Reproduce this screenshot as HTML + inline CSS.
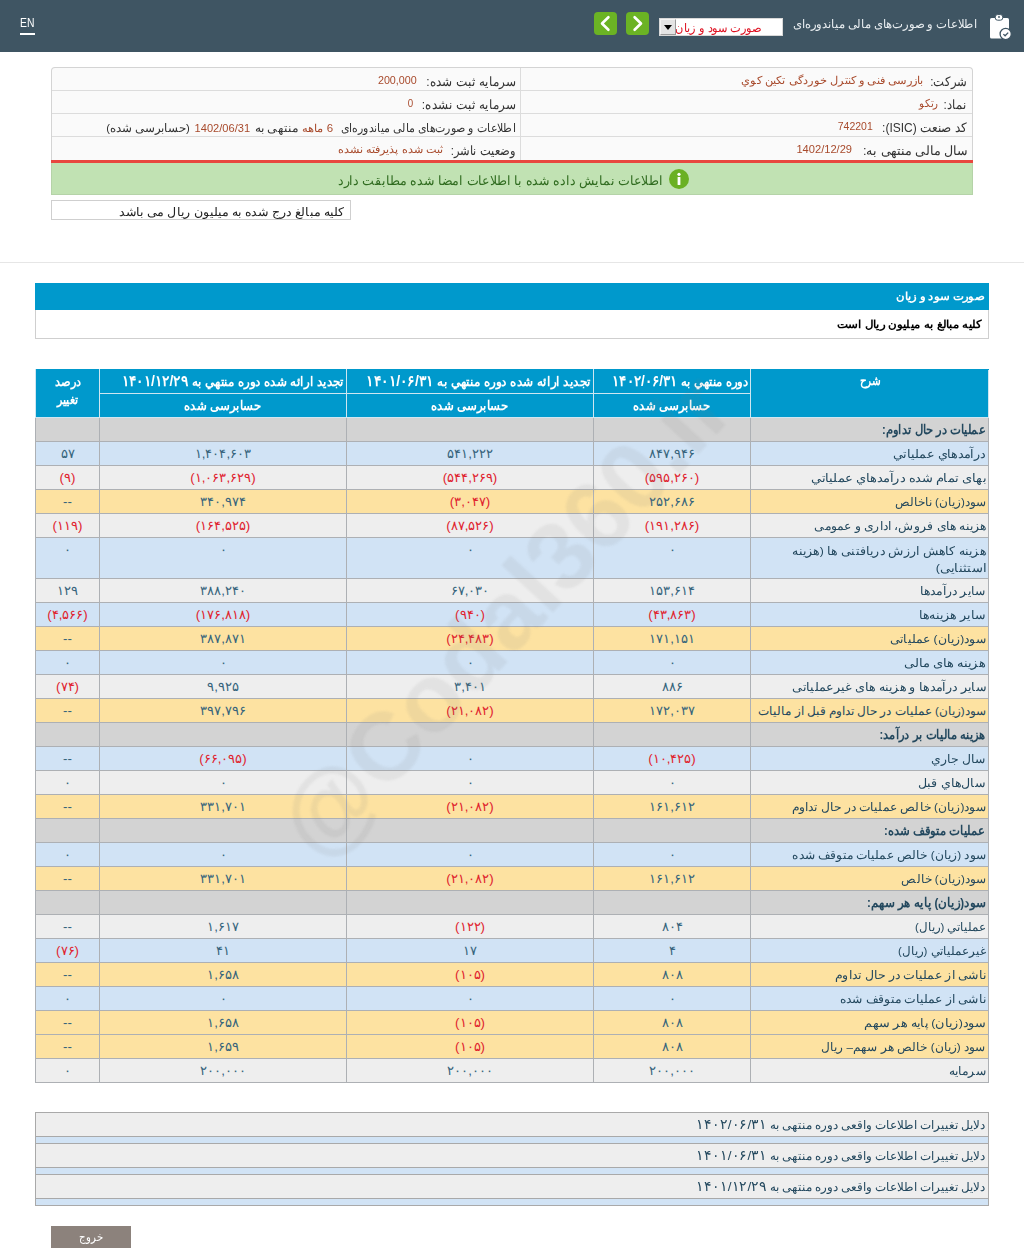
<!DOCTYPE html>
<html lang="fa" dir="rtl">
<head>
<meta charset="utf-8">
<title>Codal</title>
<style>
*{box-sizing:border-box;}
html,body{margin:0;padding:0;background:#fff;overflow:hidden;}
body{width:1024px;height:1248px;position:relative;overflow:hidden;direction:rtl;
 font-family:"Liberation Sans",sans-serif;font-size:12px;color:#333;}
.abs{position:absolute;}
.f{display:inline-block;white-space:nowrap;}
.f.r{transform-origin:100% 50%;}
.f.c{transform-origin:50% 50%;}
.f.l{transform-origin:0 50%;}
.dg{font-size:1.17em;}
#hdr{position:absolute;left:0;top:0;width:1024px;height:52px;background:#3f5563;}
#hdr .title{position:absolute;right:47px;top:14px;height:20px;line-height:20px;font-size:11.7px;color:#e9eef1;white-space:nowrap;}
#hdr .en{position:absolute;left:20px;top:16px;font-size:12.2px;line-height:14px;color:#fff;direction:ltr;transform:scaleX(0.85);transform-origin:0 50%;}
#hdr .enline{position:absolute;left:20px;top:33px;width:15px;height:1.5px;background:#fff;}
.gbtn{position:absolute;top:12px;width:23px;height:23px;border-radius:4px;background:#6bb324;}
.sel{position:absolute;left:659px;top:18px;width:124px;height:18px;background:#fff;border:1px solid #d8d8d8;}
.sel .txt{position:absolute;right:20.5px;top:1px;height:16px;line-height:16px;color:#de1020;font-size:11.5px;white-space:nowrap;}
.sel .arr{position:absolute;left:0;top:0;width:16px;height:16px;background:#e4e4e4;border:1px solid #9a9a9a;border-top-color:#f4f4f4;border-left-color:#f4f4f4;}
.sel .arr:after{content:"";position:absolute;left:3px;top:5px;border-left:4.5px solid transparent;border-right:4.5px solid transparent;border-top:5px solid #000;}
#info{position:absolute;left:51px;top:67px;width:922px;height:94px;background:#fafafa;border:1px solid #d4d4d4;border-bottom:none;border-radius:4px 4px 0 0;}
#info .row{position:absolute;left:0;width:920px;height:23px;border-bottom:1px solid #dcdcdc;}
#info .vd{position:absolute;left:468px;top:0;width:1px;height:93px;background:#dcdcdc;}
#info .k{position:absolute;top:0;height:23px;line-height:27px;white-space:nowrap;font-size:13px;color:#333;}
#info .v{position:absolute;top:0;height:23px;line-height:25px;white-space:nowrap;font-size:11px;color:#a84a2c;}
#redl{position:absolute;left:51px;top:160px;width:922px;height:3px;background:#e8473f;}
#grn{position:absolute;left:51px;top:163px;width:922px;height:32px;background:#c1e2b3;border:1px solid #b5d3a8;border-top:none;}
#grn .t{position:absolute;right:309px;top:0;height:32px;line-height:35px;font-size:13px;color:#2f6b1f;white-space:nowrap;}
#grn .ic{position:absolute;left:617px;top:6px;width:20px;height:20px;border-radius:50%;background:#6ab023;}
#note{position:absolute;left:51px;top:200px;width:300px;height:20px;border:1px solid #cfcfcf;background:#fff;line-height:22px;font-size:12px;color:#222;padding-right:5px;white-space:nowrap;}
#hr{position:absolute;left:0;top:262px;width:1024px;height:1px;background:#e6e6e6;}
#sec{position:absolute;left:35px;top:283px;width:954px;height:27px;background:#0099cc;color:#fff;font-weight:bold;font-size:11.2px;line-height:27px;padding-right:4.5px;}
#sub{position:absolute;left:35px;top:310px;width:954px;height:29px;background:#fff;border:1px solid #cfcfcf;border-top:none;color:#000;font-weight:bold;font-size:11.2px;line-height:28px;padding-right:6px;}
#tbl{position:absolute;left:35px;top:369px;width:953px;border-collapse:collapse;table-layout:fixed;direction:rtl;}
#tbl td,#tbl th{border:1px solid #adb0b4;padding:0;height:24px;line-height:22px;font-size:11.5px;white-space:nowrap;overflow:visible;}
#tbl thead tr{background:#0099cc;}
#tbl th{color:#fff;font-weight:bold;border-color:#cfe6f1;text-align:center;font-size:13px;}
#tbl thead tr:first-child th{border-top-color:#0099cc;}
#tbl th.ov{text-align:right;padding-right:2px;}
#tbl td{color:#36647c;text-align:center;font-size:13.3px;}
#tbl td.d{text-align:right;padding-right:2.4px;font-size:11.6px;color:#23485e;}
#tbl tr.b td{background:#d1e3f5;}
#tbl tr.g td{background:#eeeeee;}
#tbl tr.y td{background:#fde2a1;}
#tbl tr.h td{background:#d3d3d3;}
#tbl tr.h td.d{font-weight:bold;font-size:12.6px;}
#tbl td.n{color:#e0232e;}
#tbl tr.two td{height:41px;vertical-align:top;padding-top:1px;}
#tbl tr.two td.d{line-height:17px;padding-top:4px;}
#wm{position:absolute;left:505px;top:616px;width:0;height:0;direction:ltr;}
#wm span{position:absolute;left:-400px;top:-60px;width:800px;height:120px;line-height:120px;text-align:center;font-size:96.6px;font-weight:bold;color:rgba(120,120,120,0.105);transform:rotate(-47.4deg);white-space:nowrap;filter:blur(0.8px);}
#rs{position:absolute;left:35px;top:1112px;width:954px;}
#rs .a{height:24px;background:#eeeeee;border:1px solid #a9a9a9;border-bottom:none;line-height:24px;font-size:11.6px;color:#23485e;padding-right:3px;white-space:nowrap;}
#rs .bb{height:7px;background:#d1e3f5;border:1px solid #a9a9a9;border-bottom:none;}
#rs .bb.last{height:8px;border-bottom:1px solid #a9a9a9;}
#exit{position:absolute;left:51px;top:1226px;width:80px;height:22px;background:#8c827c;color:#fff;text-align:center;font-size:11.5px;line-height:23px;}
</style>
</head>
<body>
<div id="hdr">
  <svg class="abs" style="left:988px;top:13px" width="26" height="28" viewBox="0 0 26 28">
    <rect x="2" y="5" width="19" height="20.5" rx="1.6" fill="#fff"/>
    <rect x="7.2" y="1.6" width="7.6" height="5.6" rx="2.4" fill="#fff" stroke="#3f5563" stroke-width="1"/>
    <circle cx="11" cy="4" r="0.9" fill="#3f5563"/>
    <circle cx="17.7" cy="21" r="5.6" fill="#fff" stroke="#3f5563" stroke-width="1.3"/>
    <path d="M15.4 21.1 L17.1 22.8 L20.2 19.6" fill="none" stroke="#3f5563" stroke-width="1.3"/>
  </svg>
  <div class="title"><span class="f r" style="transform:scaleX(0.968)">اطلاعات و صورت‌های مالی میاندوره‌ای</span></div>
  <div class="sel"><div class="txt"><span class="f r" style="transform:scaleX(0.945)">صورت سود و زیان</span></div><div class="arr"></div></div>
  <div class="gbtn" style="left:626px"><svg width="23" height="23" viewBox="0 0 23 23"><path d="M8.6 5.2 L15 11.5 L8.6 17.8" fill="none" stroke="#fff" stroke-width="2.6" stroke-linecap="round" stroke-linejoin="round"/></svg></div>
  <div class="gbtn" style="left:594px"><svg width="23" height="23" viewBox="0 0 23 23"><path d="M14.4 5.2 L8 11.5 L14.4 17.8" fill="none" stroke="#fff" stroke-width="2.6" stroke-linecap="round" stroke-linejoin="round"/></svg></div>
  <div class="en">EN</div><div class="enline"></div>
</div>
<div id="info">
<div class="row" style="top:0px"><div class="k" style="right:5.0px"><span class="f r" style="transform:scaleX(0.895)">شرکت:</span></div><div class="v" style="right:49.0px"><span class="f r" style="transform:scaleX(1.034)">بازرسی فنی و کنترل خوردگی تکین کوي</span></div><div class="k" style="right:456.4px"><span class="f r" style="transform:scaleX(0.926)">سرمایه ثبت شده:</span></div><div class="v" style="right:555.2px"><span class="f r" style="transform:scaleX(0.977)">200,000</span></div></div>
<div class="row" style="top:23px"><div class="k" style="right:5.0px"><span class="f r" style="transform:scaleX(0.904)">نماد:</span></div><div class="v" style="right:34.1px"><span class="f r" style="transform:scaleX(0.930)">رتکو</span></div><div class="k" style="right:456.4px"><span class="f r" style="transform:scaleX(0.924)">سرمایه ثبت نشده:</span></div><div class="v" style="right:558.5px"><span class="f r" style="transform:scaleX(0.883)">0</span></div></div>
<div class="row" style="top:46px"><div class="k" style="right:5.0px"><span class="f r" style="transform:scaleX(0.923)">کد صنعت (ISIC):</span></div><div class="v" style="right:98.9px"><span class="f r" style="transform:scaleX(0.953)">742201</span></div><div class="k" style="right:456.4px;font-size:12px;line-height:28px"><span class="f r" style="transform:scaleX(0.915)">اطلاعات و صورت‌های مالی میاندوره‌ای</span></div><div class="v" style="right:638.7px;line-height:29px"><span class="f r" style="transform:scaleX(1.043)">6 ماهه</span></div><div class="k" style="right:673.8px;font-size:11.5px;line-height:29px"><span class="f r" style="transform:scaleX(1.024)">منتهی به</span></div><div class="v" style="right:721.5px;line-height:29px"><span class="f r" style="transform:scaleX(1.007)">1402/06/31</span></div><div class="k" style="right:781.7px;font-size:11.5px;line-height:29px"><span class="f r" style="transform:scaleX(0.986)">(حسابرسی شده)</span></div></div>
<div class="row" style="top:69px;border-bottom:none"><div class="k" style="right:5.0px"><span class="f r" style="transform:scaleX(0.973)">سال مالی منتهی به:</span></div><div class="v" style="right:120.0px"><span class="f r" style="transform:scaleX(1.011)">1402/12/29</span></div><div class="k" style="right:456.4px"><span class="f r" style="transform:scaleX(0.882)">وضعیت ناشر:</span></div><div class="v" style="right:529.3px"><span class="f r" style="transform:scaleX(1.013)">ثبت شده پذیرفته نشده</span></div></div>
  <div class="vd"></div>
</div>
<div id="redl"></div>
<div id="grn"><div class="t"><span class="f r" style="transform:scaleX(0.965)">اطلاعات نمایش داده شده با اطلاعات امضا شده مطابقت دارد</span></div><div class="ic"><svg width="20" height="20" viewBox="0 0 20 20"><circle cx="10" cy="5.3" r="1.6" fill="#fff"/><rect x="8.6" y="8" width="2.8" height="8" rx="0.6" fill="#fff"/></svg></div></div>
<div id="note"><span class="f r" style="transform:scaleX(1.050)">کلیه مبالغ درج شده به میلیون ریال می باشد</span></div>
<div id="hr"></div>
<div id="sec"><span class="f r" style="transform:scaleX(1.056)">صورت سود و زیان</span></div>
<div id="sub"><span class="f r" style="transform:scaleX(1.069)">کلیه مبالغ به میلیون ریال است</span></div>
<table id="tbl"><colgroup><col style="width:238px"><col style="width:157px"><col style="width:247px"><col style="width:247px"><col style="width:64px"></colgroup>
<thead><tr><th rowspan="2" style="vertical-align:top"><span class="f c" style="transform:scaleX(0.800)">شرح</span></th><th class="ov"><span class="f r" style="transform:scaleX(0.900)">دوره منتهي به <span class="dg">۱۴۰۲/۰۶/۳۱</span></span></th><th class="ov"><span class="f r" style="transform:scaleX(0.928)">تجدید ارائه شده دوره منتهي به <span class="dg">۱۴۰۱/۰۶/۳۱</span></span></th><th class="ov"><span class="f r" style="transform:scaleX(0.919)">تجدید ارائه شده دوره منتهي به <span class="dg">۱۴۰۱/۱۲/۲۹</span></span></th><th rowspan="2" style="vertical-align:top;line-height:17.6px;padding-top:3px"><span class="f c" style="transform:scaleX(0.866)">درصد</span><br><span class="f c" style="transform:scaleX(0.857)">تغییر</span></th></tr>
<tr><th><span class="f c" style="transform:scaleX(0.903)">حسابرسی شده</span></th><th><span class="f c" style="transform:scaleX(0.903)">حسابرسی شده</span></th><th><span class="f c" style="transform:scaleX(0.903)">حسابرسی شده</span></th></tr></thead><tbody>
<tr class="h"><td class="d"><span class="f r" style="transform:scaleX(0.889)">عملیات در حال تداوم:</span></td><td></td><td></td><td></td><td></td></tr>
<tr class="b"><td class="d"><span class="f r" style="transform:scaleX(1.060)">درآمدهاي عملياتي</span></td><td>۸۴۷,۹۴۶</td><td>۵۴۱,۲۲۲</td><td>۱,۴۰۴,۶۰۳</td><td>۵۷</td></tr>
<tr class="g"><td class="d"><span class="f r" style="transform:scaleX(1.082)">بهای تمام شده درآمدهاي عملياتي</span></td><td class=n>(۵۹۵,۲۶۰)</td><td class=n>(۵۴۴,۲۶۹)</td><td class=n>(۱,۰۶۳,۶۲۹)</td><td class=n>(۹)</td></tr>
<tr class="y"><td class="d"><span class="f r" style="transform:scaleX(1.004)">سود(زیان) ناخالص</span></td><td>۲۵۲,۶۸۶</td><td class=n>(۳,۰۴۷)</td><td>۳۴۰,۹۷۴</td><td>--</td></tr>
<tr class="g"><td class="d"><span class="f r" style="transform:scaleX(1.027)">هزینه های فروش، اداری و عمومی</span></td><td class=n>(۱۹۱,۲۸۶)</td><td class=n>(۸۷,۵۲۶)</td><td class=n>(۱۶۴,۵۲۵)</td><td class=n>(۱۱۹)</td></tr>
<tr class="b two"><td class="d"><span class="f r" style="transform:scaleX(1.046)">هزینه کاهش ارزش دریافتنی ها (هزینه</span><br><span class="f r" style="transform:scaleX(1.093)">استثنایی)</span></td><td>۰</td><td>۰</td><td>۰</td><td>۰</td></tr>
<tr class="g"><td class="d"><span class="f r" style="transform:scaleX(1.032)">سایر درآمدها</span></td><td>۱۵۳,۶۱۴</td><td>۶۷,۰۳۰</td><td>۳۸۸,۲۴۰</td><td>۱۲۹</td></tr>
<tr class="b"><td class="d"><span class="f r" style="transform:scaleX(1.048)">سایر هزینه‌ها</span></td><td class=n>(۴۳,۸۶۳)</td><td class=n>(۹۴۰)</td><td class=n>(۱۷۶,۸۱۸)</td><td class=n>(۴,۵۶۶)</td></tr>
<tr class="y"><td class="d"><span class="f r" style="transform:scaleX(1.032)">سود(زیان) عملیاتی</span></td><td>۱۷۱,۱۵۱</td><td class=n>(۲۴,۴۸۳)</td><td>۳۸۷,۸۷۱</td><td>--</td></tr>
<tr class="b"><td class="d"><span class="f r" style="transform:scaleX(1.084)">هزینه های مالی</span></td><td>۰</td><td>۰</td><td>۰</td><td>۰</td></tr>
<tr class="g"><td class="d"><span class="f r" style="transform:scaleX(1.058)">سایر درآمدها و هزینه های غیرعملیاتی</span></td><td>۸۸۶</td><td>۳,۴۰۱</td><td>۹,۹۲۵</td><td class=n>(۷۴)</td></tr>
<tr class="y"><td class="d"><span class="f r" style="transform:scaleX(1.000)">سود(زیان) عملیات در حال تداوم قبل از مالیات</span></td><td>۱۷۲,۰۳۷</td><td class=n>(۲۱,۰۸۲)</td><td>۳۹۷,۷۹۶</td><td>--</td></tr>
<tr class="h"><td class="d"><span class="f r" style="transform:scaleX(0.888)">هزینه مالیات بر درآمد:</span></td><td></td><td></td><td></td><td></td></tr>
<tr class="b"><td class="d"><span class="f r" style="transform:scaleX(1.031)">سال جاري</span></td><td class=n>(۱۰,۴۲۵)</td><td>۰</td><td class=n>(۶۶,۰۹۵)</td><td>--</td></tr>
<tr class="g"><td class="d"><span class="f r" style="transform:scaleX(1.052)">سال‌هاي قبل</span></td><td>۰</td><td>۰</td><td>۰</td><td>۰</td></tr>
<tr class="y"><td class="d"><span class="f r" style="transform:scaleX(1.021)">سود(زیان) خالص عملیات در حال تداوم</span></td><td>۱۶۱,۶۱۲</td><td class=n>(۲۱,۰۸۲)</td><td>۳۳۱,۷۰۱</td><td>--</td></tr>
<tr class="h"><td class="d"><span class="f r" style="transform:scaleX(0.894)">عملیات متوقف شده:</span></td><td></td><td></td><td></td><td></td></tr>
<tr class="b"><td class="d"><span class="f r" style="transform:scaleX(1.019)">سود (زیان) خالص عملیات متوقف شده</span></td><td>۰</td><td>۰</td><td>۰</td><td>۰</td></tr>
<tr class="y"><td class="d"><span class="f r" style="transform:scaleX(1.007)">سود(زیان) خالص</span></td><td>۱۶۱,۶۱۲</td><td class=n>(۲۱,۰۸۲)</td><td>۳۳۱,۷۰۱</td><td>--</td></tr>
<tr class="h"><td class="d"><span class="f r" style="transform:scaleX(0.916)">سود(زیان) پایه هر سهم:</span></td><td></td><td></td><td></td><td></td></tr>
<tr class="g"><td class="d"><span class="f r" style="transform:scaleX(0.987)">عملیاتي (ریال)</span></td><td>۸۰۴</td><td class=n>(۱۲۲)</td><td>۱,۶۱۷</td><td>--</td></tr>
<tr class="b"><td class="d"><span class="f r" style="transform:scaleX(0.988)">غیرعملیاتي (ریال)</span></td><td>۴</td><td>۱۷</td><td>۴۱</td><td class=n>(۷۶)</td></tr>
<tr class="y"><td class="d"><span class="f r" style="transform:scaleX(1.040)">ناشی از عملیات در حال تداوم</span></td><td>۸۰۸</td><td class=n>(۱۰۵)</td><td>۱,۶۵۸</td><td>--</td></tr>
<tr class="b"><td class="d"><span class="f r" style="transform:scaleX(1.028)">ناشی از عملیات متوقف شده</span></td><td>۰</td><td>۰</td><td>۰</td><td>۰</td></tr>
<tr class="y"><td class="d"><span class="f r" style="transform:scaleX(1.067)">سود(زیان) پایه هر سهم</span></td><td>۸۰۸</td><td class=n>(۱۰۵)</td><td>۱,۶۵۸</td><td>--</td></tr>
<tr class="y"><td class="d"><span class="f r" style="transform:scaleX(1.012)">سود (زیان) خالص هر سهم– ریال</span></td><td>۸۰۸</td><td class=n>(۱۰۵)</td><td>۱,۶۵۹</td><td>--</td></tr>
<tr class="g"><td class="d"><span class="f r" style="transform:scaleX(1.031)">سرمایه</span></td><td>۲۰۰,۰۰۰</td><td>۲۰۰,۰۰۰</td><td>۲۰۰,۰۰۰</td><td>۰</td></tr>
</tbody></table>
<div id="wm"><span>@Codal360.ir</span></div>
<div id="rs">
 <div class="a"><span class="f r" style="transform:scaleX(0.993)">دلایل تغییرات اطلاعات واقعی دوره منتهی به <span class="dg">۱۴۰۲/۰۶/۳۱</span></span></div><div class="bb"></div>
 <div class="a"><span class="f r" style="transform:scaleX(0.993)">دلایل تغییرات اطلاعات واقعی دوره منتهی به <span class="dg">۱۴۰۱/۰۶/۳۱</span></span></div><div class="bb"></div>
 <div class="a"><span class="f r" style="transform:scaleX(0.993)">دلایل تغییرات اطلاعات واقعی دوره منتهی به <span class="dg">۱۴۰۱/۱۲/۲۹</span></span></div><div class="bb last"></div>
</div>
<div id="exit"><span class="f c" style="transform:scaleX(0.839)">خروج</span></div>
</body>
</html>
